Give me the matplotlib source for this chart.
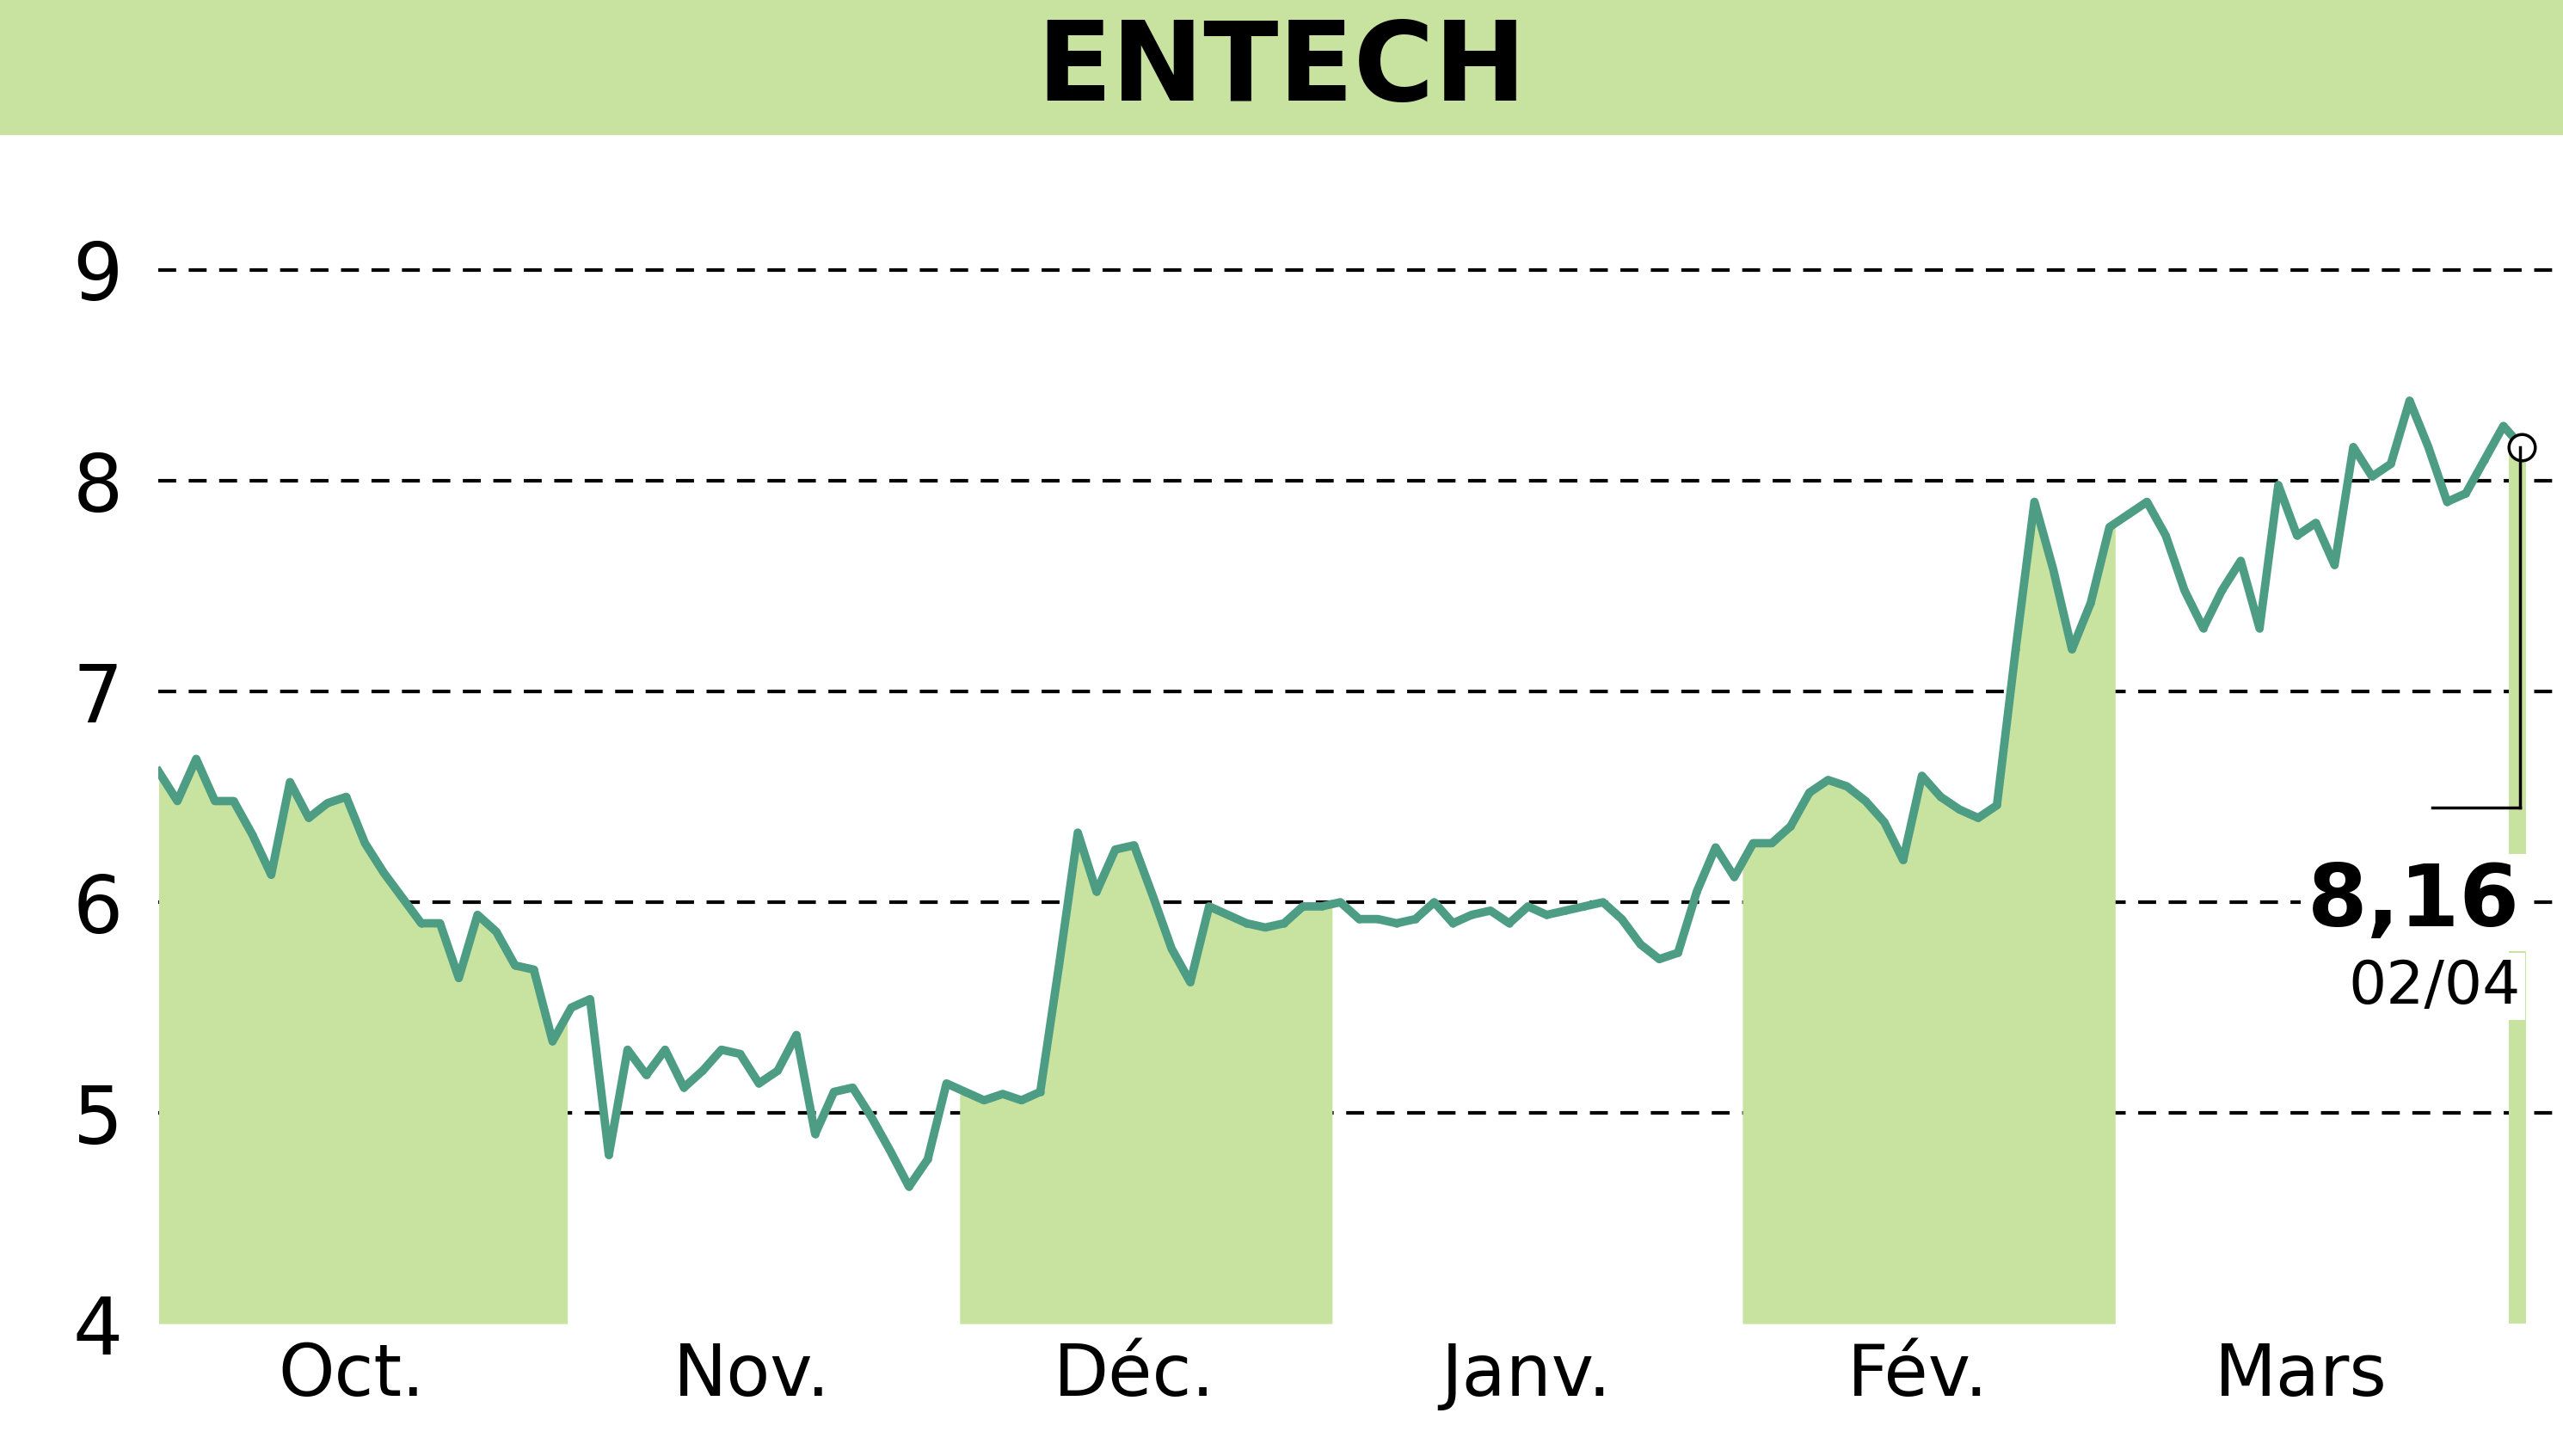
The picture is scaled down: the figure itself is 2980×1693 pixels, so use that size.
import matplotlib.pyplot as plt
import numpy as np

prices = [6.62, 6.48, 6.68, 6.48, 6.48, 6.32, 6.13, 6.57, 6.40, 6.47, 6.50, 6.28, 6.14, 6.02,
          5.90, 5.90, 5.64, 5.94, 5.86, 5.70, 5.68, 5.34, 5.50, 5.54, 4.80, 5.30, 5.18, 5.30,
          5.12, 5.20, 5.30, 5.28, 5.14, 5.20, 5.37, 4.90, 5.10, 5.12, 4.98, 4.82, 4.65, 4.78,
          5.14, 5.10, 5.06, 5.09, 5.06, 5.10, 5.70, 6.33, 6.05, 6.25, 6.27, 6.03, 5.78, 5.62,
          5.98, 5.94, 5.90, 5.88, 5.90, 5.98, 5.98, 6.00, 5.92, 5.92, 5.90, 5.92, 6.00, 5.90,
          5.94, 5.96, 5.90, 5.98, 5.94, 5.96, 5.98, 6.00, 5.92, 5.80, 5.73, 5.76, 6.05, 6.26,
          6.12, 6.28, 6.28, 6.36, 6.52, 6.58, 6.55, 6.48, 6.38, 6.20, 6.60, 6.50, 6.44, 6.40,
          6.46, 7.20, 7.90, 7.58, 7.20, 7.42, 7.78, 7.84, 7.90, 7.74, 7.48, 7.30, 7.48, 7.62,
          7.30, 7.98, 7.74, 7.80, 7.60, 8.16, 8.02, 8.08, 8.38, 8.16, 7.90, 7.94, 8.10, 8.26,
          8.16]
months = ["Oct.", "Nov.", "Déc.", "Janv.", "Fév.", "Mars"]
# month boundaries as fraction of the plotted span
month_edges = [0.0, 0.1729, 0.3389, 0.4965, 0.6701, 0.8278, 0.9945]
shaded = [0, 2, 4]
last_label = "8,16"
last_date = "02/04"

GREEN = "#c8e2a0"
LINE = "#4d9c84"
FONT = "DejaVu Sans"

n = len(prices)
x = np.arange(n)
p = np.array(prices)
span = n - 1
edges = [f * span for f in month_edges] + [span + 0.2]

fig = plt.figure(figsize=(29.8, 16.93), dpi=100)
fig.patches.append(plt.Rectangle((0, 0.908), 1, 0.092, transform=fig.transFigure,
                                 color=GREEN, zorder=0))
fig.text(0.5, 0.952, "ENTECH", ha="center", va="center", fontsize=92,
         fontweight="bold", family=FONT)

ax = fig.add_axes([0.0619, 0.0909, 0.9381, 0.796])
xmax = span * (1568 - 97) / (1543 - 97)
ax.set_xlim(0, xmax)
ax.set_ylim(4, 9.5)

for i in shaded:
    a, b = edges[i], edges[i + 1]
    m = (x > a) & (x < b)
    xs = np.concatenate([[a], x[m], [b]])
    ys = np.interp(xs, x, p)
    ax.fill_between(xs, 4, ys, color=GREEN, lw=0, zorder=1)
ax.fill_between([edges[6], edges[7]], 4, [p[-1], p[-1]], color=GREEN, lw=0, zorder=1)

for v in [5, 6, 7, 8, 9]:
    ax.axhline(v, color="black", ls=(0, (5, 3.5)), lw=3, zorder=0.5)

ax.plot(x, p, color=LINE, lw=7, marker="o", ms=5, zorder=3)
ax.plot(x[-1], p[-1], "o", ms=22, mfc="white", mec="black", mew=2.5, zorder=4)
ax.plot([x[-1] - 0.1, x[-1] - 0.1], [p[-1], 6.45], color="black", lw=2.5, zorder=4)
ax.plot([x[-1] - 4.8, x[-1] - 0.1], [6.45, 6.45], color="black", lw=2.5, zorder=4)
ax.text(x[-1] - 0.1, 6.0, last_label, ha="right", va="center", fontsize=72, fontweight="bold",
        family=FONT, zorder=5, bbox=dict(facecolor="white", edgecolor="none", pad=6))
ax.text(x[-1] - 0.1, 5.6, last_date, ha="right", va="center", fontsize=50,
        family=FONT, zorder=5, bbox=dict(facecolor="white", edgecolor="none", pad=4))

ax.set_yticks([4, 5, 6, 7, 8, 9])
ax.set_yticklabels(["4", "5", "6", "7", "8", "9"], fontsize=66, family=FONT)
centers = [(edges[i] + edges[i + 1]) / 2 - 0.6 for i in range(6)]
ax.set_xticks(centers)
ax.set_xticklabels(months, fontsize=60, family=FONT)
ax.tick_params(length=0, pad=14)
ax.tick_params(axis="y", pad=30)
for s in ax.spines.values():
    s.set_visible(False)

fig.savefig("out.png", dpi=100)
